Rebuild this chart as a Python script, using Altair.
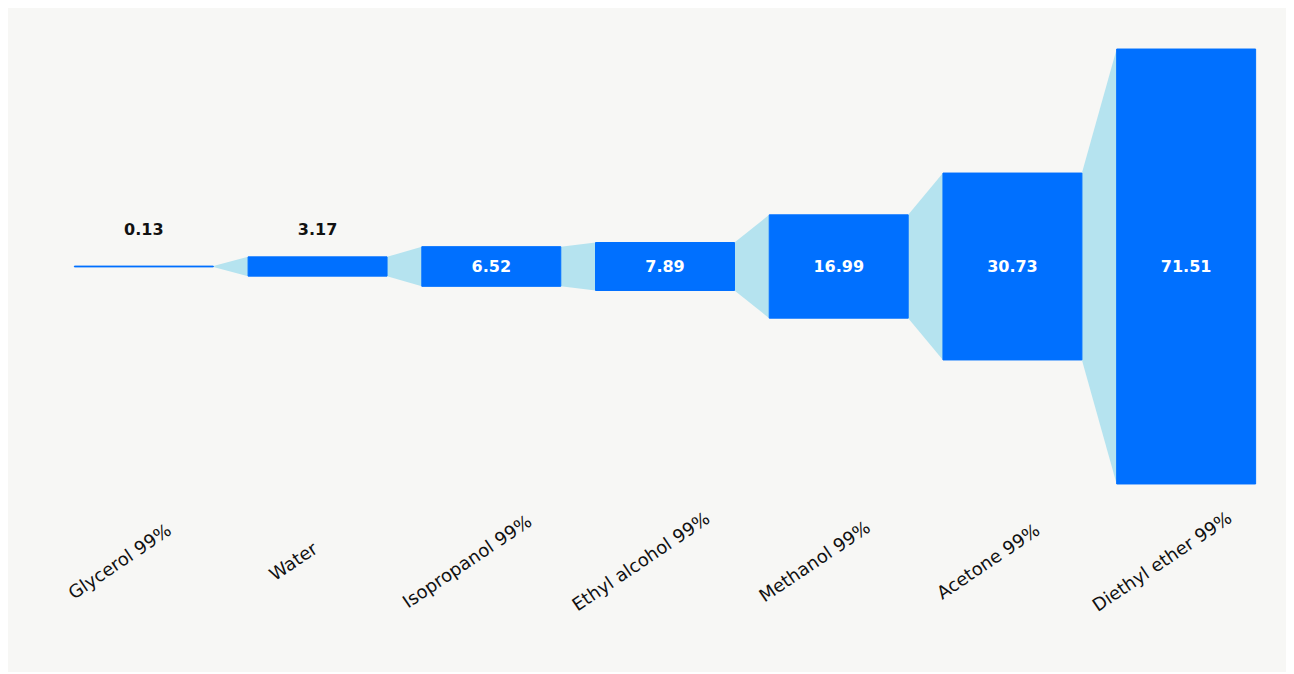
import json
import altair as alt
import pandas as pd

names = ["Glycerol 99%", "Water", "Isopropanol 99%", "Ethyl alcohol 99%",
         "Methanol 99%", "Acetone 99%", "Diethyl ether 99%"]
values = [0.13, 3.17, 6.52, 7.89, 16.99, 30.73, 71.51]

HALF = 0.4
bars = pd.DataFrame({
    "name": names,
    "value": values,
    "idx": list(range(len(names))),
})
bars["x0"] = bars["idx"] - HALF
bars["x1"] = bars["idx"] + HALF
bars["lo"] = -bars["value"] / 2
bars["hi"] = bars["value"] / 2
bars["mid"] = 0.0
bars["label"] = bars["value"].map(lambda v: f"{v:.2f}")
bars["inside"] = bars["value"] >= 5

rows = []
for i in range(len(values) - 1):
    rows.append({"seg": i, "x": i + HALF, "lo": -values[i] / 2, "hi": values[i] / 2})
    rows.append({"seg": i, "x": i + 1 - HALF, "lo": -values[i + 1] / 2, "hi": values[i + 1] / 2})
conn = pd.DataFrame(rows)

xscale = alt.Scale(domain=[-0.5, len(names) - 0.5], nice=False, zero=False)
yscale = alt.Scale(domain=[-42.5, 42.5], nice=False, zero=False)

label_expr = json.dumps(names) + "[datum.value]"

x_axis = alt.Axis(
    values=list(range(len(names))), labelExpr=label_expr, title=None,
    domain=False, ticks=False, grid=False, labelAngle=-34,
    labelAlign="center", labelBaseline="middle", labelPadding=37,
    labelOffset=-24, labelFont="DejaVu Sans", labelFontSize=18,
    labelColor="#111111", labelOverlap=False, labelBound=False,
)
y_axis = None

connectors = alt.Chart(conn).mark_area(color="#b5e3ef", opacity=1).encode(
    x=alt.X("x:Q", scale=xscale, axis=x_axis),
    y=alt.Y("lo:Q", scale=yscale, axis=y_axis),
    y2="hi:Q",
    detail="seg:N",
)

rects = alt.Chart(bars).mark_rect(color="#0070ff", stroke="#0070ff", strokeWidth=1).encode(
    x=alt.X("x0:Q", scale=xscale, axis=x_axis),
    x2="x1:Q",
    y=alt.Y("lo:Q", scale=yscale, axis=y_axis),
    y2="hi:Q",
)

inside_text = alt.Chart(bars).transform_filter("datum.inside").mark_text(
    font="DejaVu Sans", fontSize=16, fontWeight="bold", color="white",
    align="center", baseline="middle",
).encode(
    x=alt.X("idx:Q", scale=xscale, axis=x_axis),
    y=alt.Y("mid:Q", scale=yscale, axis=y_axis),
    text="label:N",
)

outside_text = alt.Chart(bars).transform_filter("!datum.inside").mark_text(
    font="DejaVu Sans", fontSize=16, fontWeight="bold", color="#111111",
    align="center", baseline="middle", dy=-37,
).encode(
    x=alt.X("idx:Q", scale=xscale, axis=x_axis),
    y=alt.Y("mid:Q", scale=yscale, axis=y_axis),
    text="label:N",
)

chart = alt.layer(connectors, rects, inside_text, outside_text).properties(
    width=1216, height=517,
    background="#f7f7f5",
    padding={"left": 49, "top": 0, "right": 13, "bottom": 147},
    autosize=alt.AutoSizeParams(type="none"),
).configure_view(stroke=None)

chart.save("out.html", embed_options={"renderer": "svg", "actions": False})
